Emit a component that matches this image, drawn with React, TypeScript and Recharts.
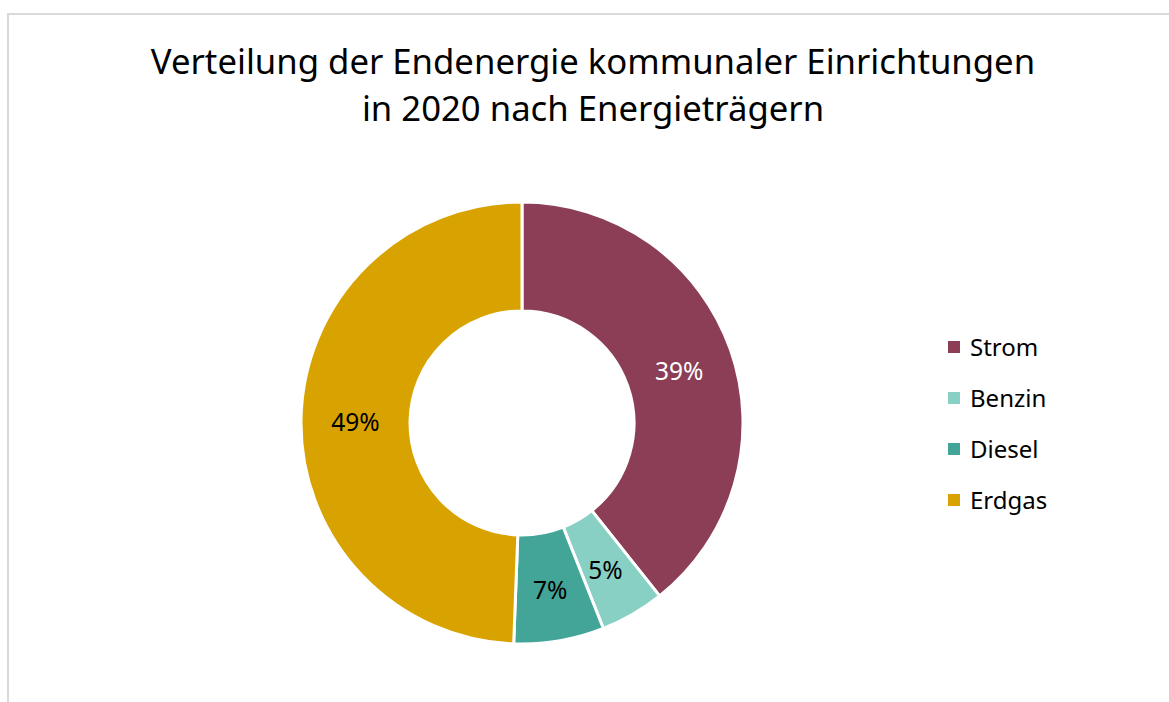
import { Cell, Legend, Pie, PieChart } from "recharts";

// Share of final energy by carrier (percent), clockwise from 12 o'clock.
const CARRIERS = ["Strom", "Benzin", "Diesel", "Erdgas"];
const SHARES = [39.3, 4.7, 6.6, 49.4];
const COLORS = ["#8B3E55", "#88D0C4", "#42A598", "#D8A300"];
const LABEL_COLORS = ["#FFFFFF", "#000000", "#000000", "#000000"];

const TITLE = ["Verteilung der Endenergie kommunaler Einrichtungen", "in 2020 nach Energieträgern"];

const FONT = "'Noto Sans', 'Open Sans', sans-serif";
const RAD = Math.PI / 180;

const data = CARRIERS.map((name, i) => ({ name, value: SHARES[i] }));

function renderLabel(props: any) {
  const { cx, cy, midAngle, innerRadius, outerRadius, index, value } = props;
  const r = (innerRadius + outerRadius) / 2;
  const x = cx + r * Math.cos(-midAngle * RAD);
  const y = cy + r * Math.sin(-midAngle * RAD) + 2;
  return (
    <text x={x} y={y} fill={LABEL_COLORS[index]} fontSize={24.5} fontFamily={FONT} textAnchor="middle" dominantBaseline="central">
      {`${Math.round(value)}%`}
    </text>
  );
}

function LegendBox() {
  return (
    <div style={{ fontFamily: FONT, fontSize: 24, color: "#000" }}>
      {CARRIERS.map((name, i) => (
        <div key={name} style={{ display: "flex", alignItems: "center", height: 51 }}>
          <span style={{ width: 12, height: 12, background: COLORS[i], marginRight: 10, display: "inline-block" }} />
          <span>{name}</span>
        </div>
      ))}
    </div>
  );
}

export default function App() {
  return (
    <div style={{ position: "absolute", left: 0, top: 0, width: 1169, height: 702, background: "#fff", overflow: "hidden" }}>
      <div style={{ position: "absolute", left: 7, top: 13, width: 1170, height: 700, border: "2px solid #d9d9d9", boxSizing: "border-box" }} />
      <div style={{ position: "absolute", left: 0, top: 37, width: 1186, textAlign: "center", fontFamily: FONT, fontSize: 34.7, lineHeight: "47px", color: "#000" }}>
        {TITLE.map((t) => (
          <div key={t}>{t}</div>
        ))}
      </div>
      <div style={{ position: "absolute", left: 0, top: 0 }}>
        <PieChart width={1169} height={702} margin={{ top: 0, right: 0, bottom: 0, left: 0 }}>
          <Pie
            data={data}
            dataKey="value"
            nameKey="name"
            cx={522}
            cy={423}
            innerRadius={112}
            outerRadius={221}
            startAngle={90}
            endAngle={-270}
            stroke="#fff"
            strokeWidth={3}
            label={renderLabel}
            labelLine={false}
            isAnimationActive={false}
          >
            {data.map((d, i) => (
              <Cell key={d.name} fill={COLORS[i]} />
            ))}
          </Pie>
          <Legend content={<LegendBox />} wrapperStyle={{ position: "absolute", left: 948, top: 321, width: 150 }} />
        </PieChart>
      </div>
    </div>
  );
}
